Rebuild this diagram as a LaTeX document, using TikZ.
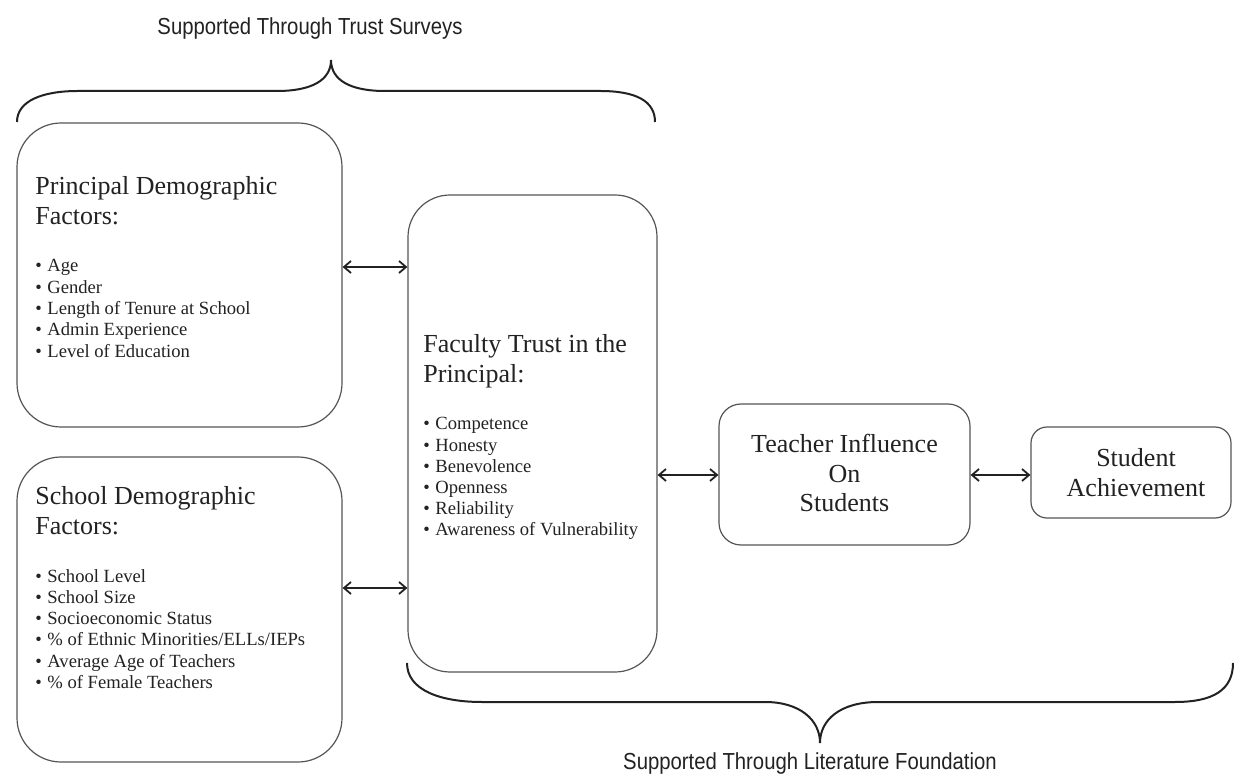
\documentclass[tikz,border=0pt]{standalone}
\usepackage{fontspec}
\setmainfont{Liberation Serif}
\newfontfamily\bracefont[FakeStretch=0.875]{Liberation Sans}
\usetikzlibrary{arrows.meta,fit}
\definecolor{ink}{HTML}{222222}
\definecolor{boxline}{HTML}{555555}
\begin{document}
\begin{tikzpicture}[x=0.5pt,y=-0.5pt,
  box/.style={draw=boxline, line width=0.6pt, rounded corners=22pt, inner sep=0pt},
  head/.style={font=\fontsize{13}{15}\selectfont, anchor=base west, inner sep=0pt, text=ink},
  headc/.style={font=\fontsize{13}{15}\selectfont, anchor=base, inner sep=0pt, text=ink},
  item/.style={font=\fontsize{9.3}{10.6}\selectfont, anchor=base west, inner sep=0pt, text=ink},
  arr/.style={{Straight Barb[length=3.5pt,width=6pt]}-{Straight Barb[length=3.5pt,width=6pt]}, line width=0.9pt, draw=ink},
  brace/.style={line width=1pt, draw=ink},
  note/.style={font=\bracefont\fontsize{11.6}{13}\selectfont, anchor=base, inner sep=0pt, text=ink}]
\fill[white] (0,0) rectangle (1236,774);
\useasboundingbox (0,0) rectangle (1236,774);

% boxes
\node[box, fit={(17,123) (342,427)}] (pd) {};
\node[box, fit={(17,457) (342,762)}] (sd) {};
\node[box, rounded corners=21pt, fit={(408,195) (657,672)}] (ft) {};
\node[box, rounded corners=11pt, fit={(719,404) (970,545)}] (ti) {};
\node[box, rounded corners=8pt, fit={(1031,427) (1231,518)}] (sa) {};

% principal demographic
\node[head] (pdh1) at (35,195) {Principal Demographic};
\node[head] (pdh2) at (35,225) {Factors:};
\foreach \t [count=\i] in {Age, Gender, Length of Tenure at School, Admin Experience, Level of Education}
  \node[item] (pdi\i) at (35,{272+21.3*(\i-1)}) {\makebox[6pt][l]{\textbullet}\t};

% school demographic
\node[head] (sdh1) at (35,505) {School Demographic};
\node[head] (sdh2) at (35,535) {Factors:};
\foreach \t [count=\i] in {School Level, School Size, Socioeconomic Status, \% of Ethnic Minorities/ELLs/IEPs, Average Age of Teachers, \% of Female Teachers}
  \node[item] (sdi\i) at (35,{582+21.3*(\i-1)}) {\makebox[6pt][l]{\textbullet}\t};

% faculty trust
\node[head] (fth1) at (423,353) {Faculty Trust in the};
\node[head] (fth2) at (423,383) {Principal:};
\foreach \t [count=\i] in {Competence, Honesty, Benevolence, Openness, Reliability, Awareness of Vulnerability}
  \node[item] (fti\i) at (423,{430+21.1*(\i-1)}) {\makebox[6pt][l]{\textbullet}\t};

% teacher influence
\node[headc] (tit1) at (844.5,453) {Teacher Influence};
\node[headc] (tit2) at (844.5,483) {On};
\node[headc] (tit3) at (844.5,512) {Students};

% student achievement
\node[headc] (sat1) at (1136,467) {Student};
\node[headc] (sat2) at (1136,497) {Achievement};

% arrows
\coordinate (ya) at (0,267);
\coordinate (yb) at (0,588);
\coordinate (yc) at (0,475);
\draw[arr] (pd.east |- ya) -- (ft.west |- ya);
\draw[arr] (sd.east |- yb) -- (ft.west |- yb);
\draw[arr] (ft.east |- yc) -- (ti.west |- yc);
\draw[arr] (ti.east |- yc) -- (sa.west |- yc);

% top brace
\draw[brace] (17,122) .. controls (17,101) and (42,91) .. (78,91) -- (277,91)
  .. controls (312,91) and (331,80) .. (331,60)
  .. controls (331,80) and (350,91) .. (385,91) -- (600,91)
  .. controls (636,91) and (655,101) .. (655,122);
\node[note] (toplabel) at (310,35) {Supported Through Trust Surveys};

% bottom brace
\draw[brace] (407,663) .. controls (407,690) and (440,702) .. (482,702) -- (765,702)
  .. controls (800,702) and (820,720) .. (820,743)
  .. controls (820,720) and (840,702) .. (878,702) -- (1175,702)
  .. controls (1213,702) and (1233,690) .. (1233,663);
\node[note] (botlabel) at (810,769) {Supported Through Literature Foundation};
\end{tikzpicture}
\end{document}
